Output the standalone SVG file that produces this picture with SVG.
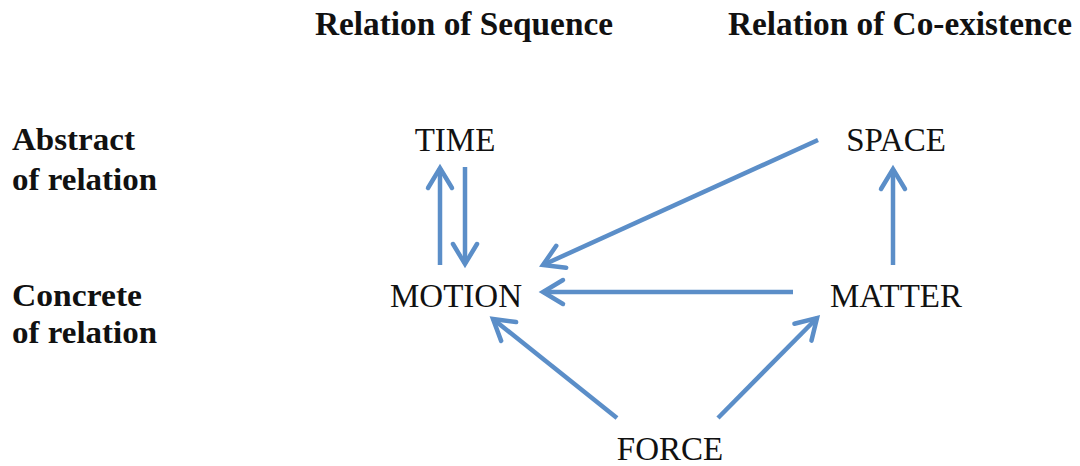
<svg xmlns="http://www.w3.org/2000/svg" width="1080" height="466" viewBox="0 0 1080 466">
  <defs>
    <style>
      .hdr { font-family: "Liberation Serif", "Times New Roman", serif; font-weight: bold; font-size: 33px; fill: #111; }
      .side { font-family: "Liberation Serif", "Times New Roman", serif; font-weight: bold; font-size: 32px; fill: #111; }
      .node { font-family: "Liberation Serif", "Times New Roman", serif; font-size: 33px; fill: #111; text-anchor: middle; }
      .link { stroke: #5b8ec8; stroke-width: 4.5; fill: none; marker-end: url(#chev); }
    </style>
    <marker id="chev" markerUnits="userSpaceOnUse" markerWidth="40" markerHeight="40" viewBox="-30 -20 40 40" refX="0" refY="0" orient="auto">
      <path d="M -20 -12 L 0 0 L -20 12" fill="none" stroke="#5b8ec8" stroke-width="4.5" stroke-linecap="round" stroke-linejoin="miter"/>
    </marker>
  </defs>
  <rect width="1080" height="466" fill="#ffffff"/>

  <!-- column headings -->
  <text class="hdr" x="315" y="35" textLength="298" lengthAdjust="spacingAndGlyphs">Relation of Sequence</text>
  <text class="hdr" x="728" y="35" textLength="344" lengthAdjust="spacingAndGlyphs">Relation of Co-existence</text>

  <!-- row headings -->
  <text class="side" x="12" y="150" textLength="123" lengthAdjust="spacingAndGlyphs">Abstract</text>
  <text class="side" x="12" y="190" textLength="145" lengthAdjust="spacingAndGlyphs">of relation</text>
  <text class="side" x="12" y="306" textLength="130" lengthAdjust="spacingAndGlyphs">Concrete</text>
  <text class="side" x="12" y="343" textLength="145" lengthAdjust="spacingAndGlyphs">of relation</text>

  <!-- nodes -->
  <g id="time"><text class="node" x="455" y="151">TIME</text></g>
  <g id="space"><text class="node" x="896" y="151">SPACE</text></g>
  <g id="motion"><text class="node" x="456" y="307">MOTION</text></g>
  <g id="matter"><text class="node" x="896" y="307">MATTER</text></g>
  <g id="force"><text class="node" x="670" y="460">FORCE</text></g>

  <!-- connectors -->
  <g id="connectors">
    <line class="link" x1="440" y1="265" x2="440" y2="168"/>
    <line class="link" x1="465" y1="167" x2="465" y2="264"/>
    <line class="link" x1="818" y1="140" x2="543" y2="265"/>
    <line class="link" x1="793" y1="292" x2="543" y2="292"/>
    <line class="link" x1="893" y1="265" x2="893" y2="169"/>
    <line class="link" x1="617" y1="418" x2="493" y2="319"/>
    <line class="link" x1="718" y1="418" x2="817" y2="318"/>
  </g>
</svg>
